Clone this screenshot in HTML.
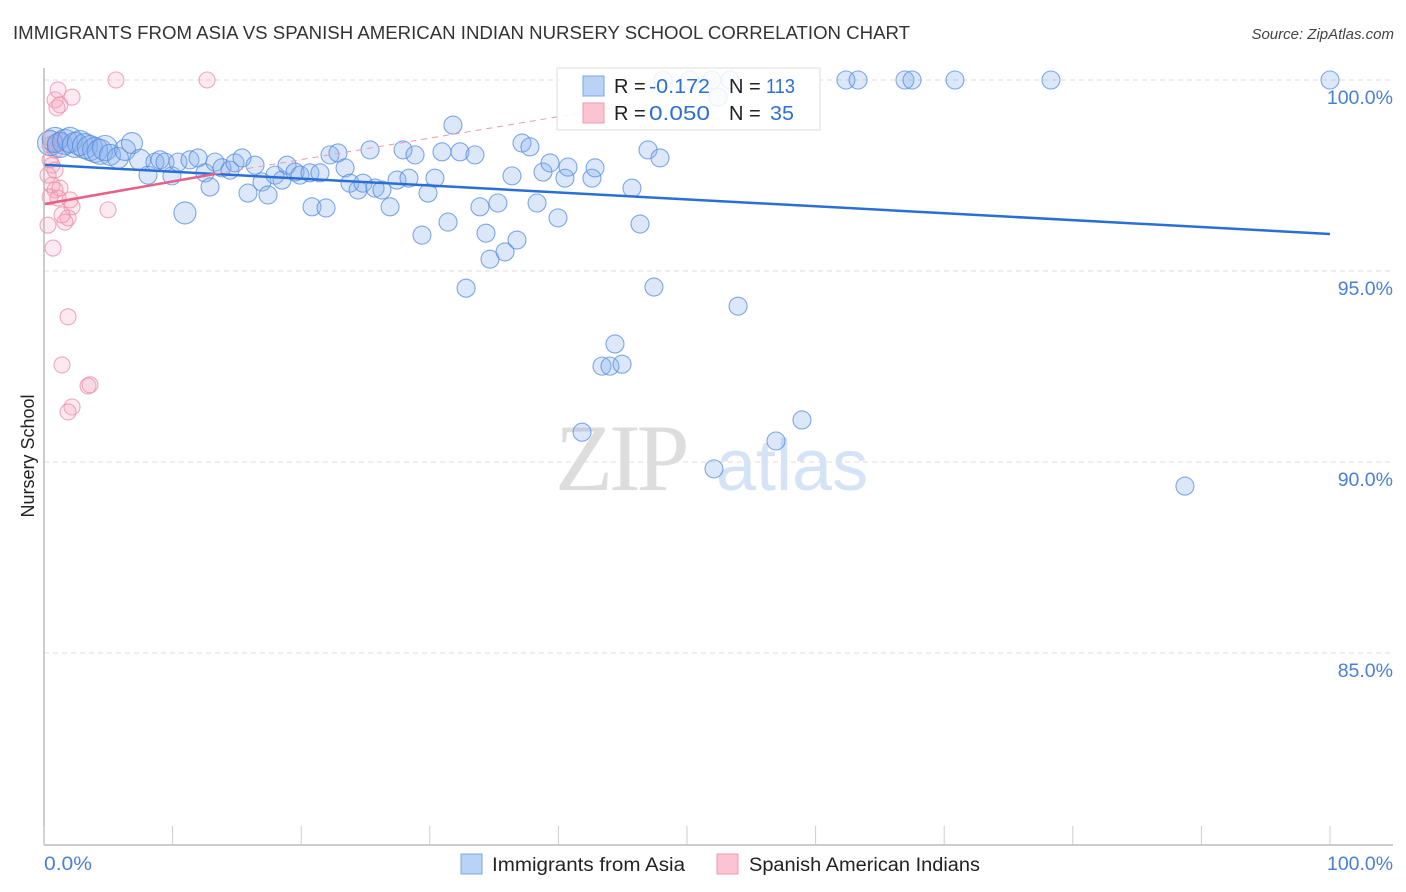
<!DOCTYPE html>
<html><head><meta charset="utf-8"><style>
body{margin:0;background:#fff;font-family:"Liberation Sans",sans-serif;}
svg{display:block}
</style></head><body>
<svg id="chart" width="1406" height="892" xmlns="http://www.w3.org/2000/svg">
<text x="13" y="39" font-size="18" fill="#333" textLength="897" lengthAdjust="spacingAndGlyphs">IMMIGRANTS FROM ASIA VS SPANISH AMERICAN INDIAN NURSERY SCHOOL CORRELATION CHART</text>
<text x="1394" y="39" font-size="15" fill="#444" font-style="italic" text-anchor="end">Source: ZipAtlas.com</text>
<g id="grid"></g>
<g id="watermark">
<text x="555" y="490" font-size="95" fill="#ddd" font-family="Liberation Serif, serif" letter-spacing="-4">ZIP</text>
<text x="716" y="490" font-size="72" fill="#d4e4f6" font-family="Liberation Sans, sans-serif">atlas</text>
</g>
<g id="points"></g>
<g id="trends"></g>
<line x1="44" y1="68" x2="44" y2="845" stroke="#bbb" stroke-width="1.5"/>
<line x1="44" y1="845" x2="1393" y2="845" stroke="#bbb" stroke-width="1.5"/>
<g id="xticks"></g>
<g id="ylabels"></g>
<text x="44" y="870" font-size="19" fill="#4a7fd6" textLength="48" lengthAdjust="spacingAndGlyphs">0.0%</text>
<text x="1327" y="870" font-size="19" fill="#4a7fd6" textLength="66" lengthAdjust="spacingAndGlyphs">100.0%</text>
<text transform="translate(34,456) rotate(-90)" font-size="18" fill="#222" text-anchor="middle">Nursery School</text>
<g>
<rect x="557" y="68" width="263" height="62" fill="#fff" fill-opacity="0.85" stroke="#ddd"/>
<rect x="583" y="76" width="21" height="20" fill="#b8d3f5" stroke="#7aa7e6"/>
<rect x="583" y="103" width="21" height="20" fill="#fbc4d3" stroke="#ee9ab2"/>
<text x="614" y="93" font-size="20" fill="#222">R = </text>
<text x="649" y="93" font-size="20" fill="#2e6fd6" textLength="61" lengthAdjust="spacingAndGlyphs">-0.172</text>
<text x="729" y="93" font-size="20" fill="#222">N = </text>
<text x="766" y="93" font-size="20" fill="#2e6fd6" textLength="29" lengthAdjust="spacingAndGlyphs">113</text>
<text x="614" y="120" font-size="20" fill="#222">R = </text>
<text x="649" y="120" font-size="20" fill="#2e6fd6" textLength="61" lengthAdjust="spacingAndGlyphs">0.050</text>
<text x="729" y="120" font-size="20" fill="#222">N = </text>
<text x="770" y="120" font-size="20" fill="#2e6fd6" textLength="24" lengthAdjust="spacingAndGlyphs">35</text>
</g>
<g>
<rect x="461" y="854" width="21" height="20" fill="#b8d3f5" stroke="#7aa7e6"/>
<text x="492" y="871" font-size="19" fill="#222" textLength="193" lengthAdjust="spacingAndGlyphs">Immigrants from Asia</text>
<rect x="717" y="854" width="21" height="20" fill="#fbc4d3" stroke="#ee9ab2"/>
<text x="749" y="871" font-size="19" fill="#222" textLength="231" lengthAdjust="spacingAndGlyphs">Spanish American Indians</text>
</g>
</svg>
<script>
const yTicks=[100,95,90,85];
const yTickLabels=["100.0%","95.0%","90.0%","85.0%"];
const xTicks=[0,10,20,30,40,50,60,70,80,90,100];
const blueX=[0.47,0.86,1.24,1.63,2.02,2.41,2.80,3.19,3.58,3.97,4.35,4.74,5.13,5.75,6.30,6.84,7.47,8.09,8.63,9.02,9.41,9.95,10.42,10.96,11.35,11.98,12.52,12.91,13.30,13.84,14.46,14.85,15.40,15.86,16.41,16.95,17.42,17.96,18.51,18.90,19.52,19.91,20.68,20.84,21.46,21.93,22.24,22.86,23.41,23.79,24.42,24.81,25.35,25.74,26.28,26.91,27.45,27.92,28.38,28.85,29.39,29.86,30.40,30.95,31.42,31.80,32.35,32.82,33.51,33.90,34.37,34.68,35.30,35.85,36.39,36.78,37.17,37.79,38.34,38.80,39.35,39.97,40.51,40.75,41.84,42.61,42.85,43.39,44.01,44.40,44.95,45.72,46.35,46.97,47.43,47.90,48.13,50.23,51.94,52.41,53.34,53.97,56.92,58.94,52.10,62.36,63.30,66.95,67.50,70.84,78.30,88.72,100];
const blueY=[98.35,98.43,98.30,98.38,98.43,98.30,98.35,98.27,98.22,98.17,98.12,98.22,98.04,97.96,98.17,98.35,97.91,97.51,97.85,97.91,97.85,97.49,97.85,96.52,97.91,97.96,97.57,97.20,97.85,97.70,97.64,97.83,97.96,97.04,97.77,97.33,96.99,97.51,97.38,97.77,97.59,97.51,97.57,96.68,97.57,96.65,98.04,98.09,97.70,97.30,97.12,97.30,98.17,97.17,97.12,96.68,97.38,98.17,97.43,98.04,95.94,97.04,97.43,98.12,96.28,98.82,98.12,94.55,98.04,96.68,95.99,95.31,96.78,95.50,97.49,95.81,98.35,98.25,96.78,97.59,97.83,96.39,97.43,97.72,90.78,97.43,97.70,92.51,92.51,93.09,92.56,97.17,96.23,98.17,94.58,97.96,100,100,100,99.55,100,94.08,90.55,91.10,89.82,100,100,100,100,100,100,89.37,100];
const pinkX=[1.09,0.86,1.24,2.18,1.01,5.60,12.68,0.47,0.86,1.24,0.47,0.62,0.62,0.86,0.47,1.09,2.02,2.18,1.87,1.63,0.31,0.70,4.98,1.87,1.40,3.42,3.58,2.18,1.87,0.86,0.31,0.47,0.86,1.40,1.24];
const pinkY=[99.74,99.48,99.35,99.55,99.27,100,100,98.48,98.35,98.43,97.91,97.77,97.25,97.12,96.94,96.91,96.86,96.68,96.39,96.28,96.20,95.60,96.60,93.80,92.54,91.99,92.02,91.44,91.31,97.64,97.51,98.30,98.17,96.47,97.17];
const blueTrend=[[0,97.78],[100,95.97]];
const pinkTrendSolid=[[0,96.75],[13.3,97.54]];
const pinkTrendDashed=[[13.3,97.54],[45,99.32]];
const NS="http://www.w3.org/2000/svg";
const sx=v=>44+v*12.86;
const sy=v=>80+(100-v)*38.2;
function mk(tag,attrs,parent){const e=document.createElementNS(NS,tag);for(const k in attrs)e.setAttribute(k,attrs[k]);parent.appendChild(e);return e;}
const grid=document.getElementById('grid'),yl=document.getElementById('ylabels'),xt=document.getElementById('xticks');
yTicks.forEach((t,i)=>{
  const l=mk('line',{x1:44,x2:1393,y1:sy(t),y2:sy(t),stroke:'#ddd','stroke-dasharray':'5,4'},grid);
  
  
  const tx=mk('text',{x:1393,y:sy(t)+24,'font-size':19.5,fill:'#4a7fd6','text-anchor':'end'},yl);
  tx.textContent=yTickLabels[i];
  
  
});
xTicks.forEach(t=>{
  const l=mk('line',{x1:sx(t),x2:sx(t),y1:826,y2:845,stroke:'#ccc'},xt);
  
  
});
const pts=document.getElementById('points');
pinkX.forEach((x,i)=>{
  const c=mk('circle',{cx:sx(x),cy:sy(pinkY[i]),r:8,fill:'rgba(246,160,185,0.22)',stroke:'rgba(236,140,168,0.75)','stroke-width':1.1},pts);
  
  
});
blueX.forEach((x,i)=>{
  let r=9;
  if(x<5)r=12.5; else if(x<8)r=10.5;
  if(Math.abs(x-10.96)<0.01)r=11;
  const c=mk('circle',{cx:sx(x),cy:sy(blueY[i]),r:r,fill:'rgba(130,172,238,0.28)',stroke:'rgba(85,140,220,0.75)','stroke-width':1.1},pts);
  
  
});
const tr=document.getElementById('trends');
let l1=mk('line',{x1:sx(blueTrend[0][0]),y1:sy(blueTrend[0][1]),x2:sx(blueTrend[1][0]),y2:sy(blueTrend[1][1]),stroke:'#2a6fd6','stroke-width':2.5},tr);


let l2=mk('line',{x1:sx(pinkTrendSolid[0][0]),y1:sy(pinkTrendSolid[0][1]),x2:sx(pinkTrendSolid[1][0]),y2:sy(pinkTrendSolid[1][1]),stroke:'#e8608a','stroke-width':2.5},tr);


let l3=mk('line',{x1:sx(pinkTrendDashed[0][0]),y1:sy(pinkTrendDashed[0][1]),x2:sx(pinkTrendDashed[1][0]),y2:sy(pinkTrendDashed[1][1]),stroke:'#eb9ab2','stroke-width':1,'stroke-dasharray':'6,5'},tr);


</script>
</body></html>
